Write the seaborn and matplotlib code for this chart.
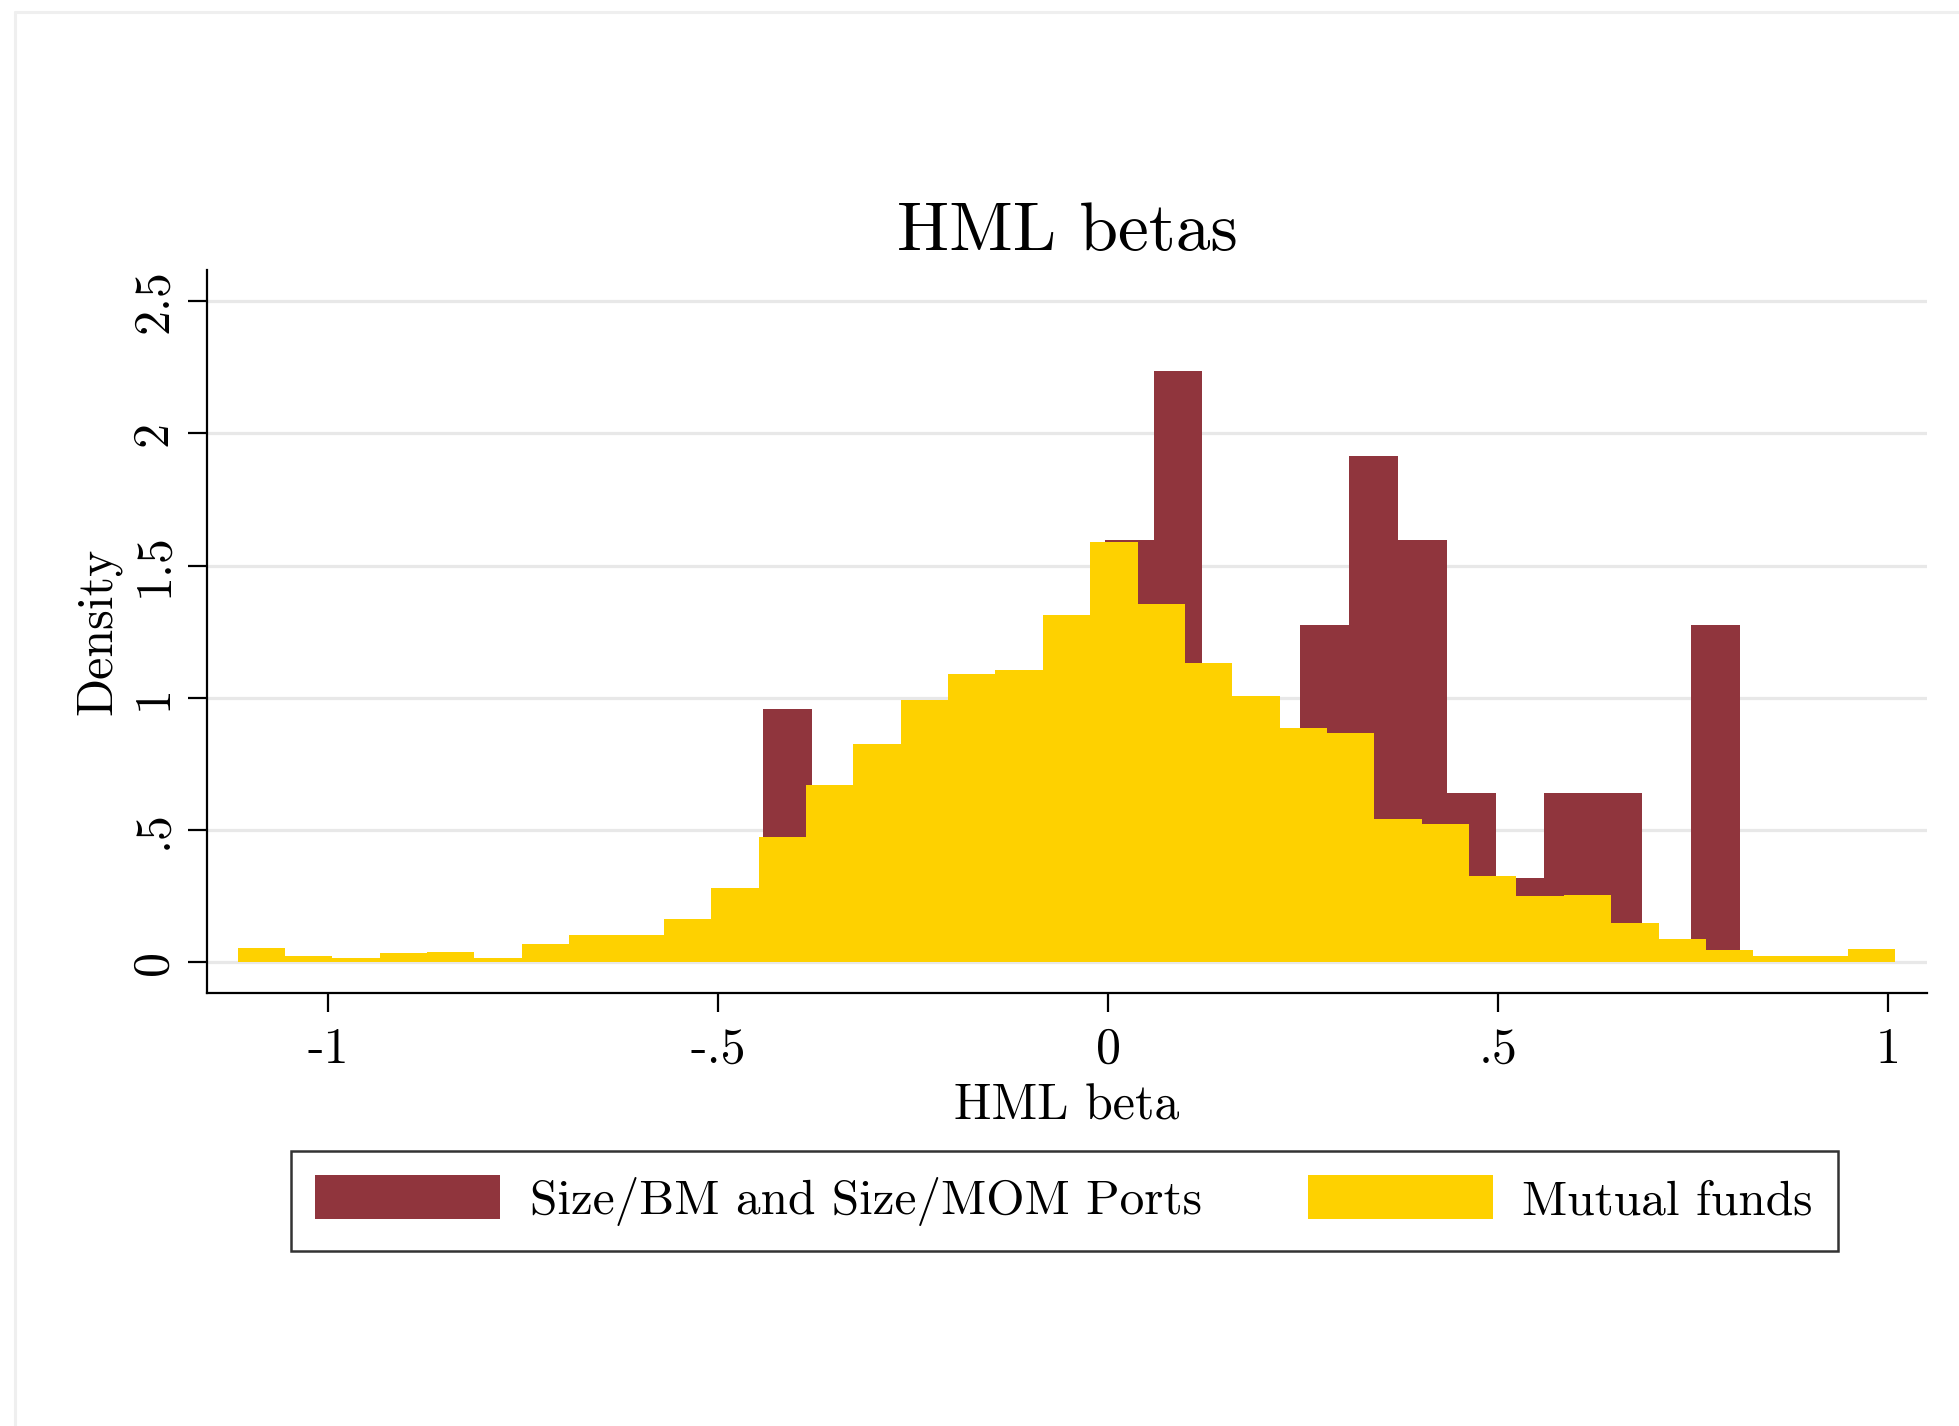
import numpy as np
import pandas as pd
import seaborn as sns
import matplotlib
matplotlib.use("Agg")
import matplotlib.pyplot as plt
from matplotlib.patches import Patch
from matplotlib.lines import Line2D

# ---- data -------------------------------------------------------------
# Size/BM and Size/MOM portfolios (50 portfolios), 20 equal-width bins
port_lo, port_hi, port_nbins = -0.4428, 0.8103, 20
port_counts = [3, 1, 1, 2, 1, 1, 1, 5, 7, 1, 1, 4, 6, 5, 2, 1, 2, 2, 0, 4]

# Mutual funds, 35 equal-width bins, density per bin
fund_lo, fund_hi, fund_nbins = -1.1163, 1.0099, 35
fund_density = [0.054, 0.025, 0.014, 0.035, 0.039, 0.014, 0.069, 0.103, 0.101,
                0.165, 0.281, 0.474, 0.670, 0.825, 0.991, 1.089, 1.105, 1.314,
                1.588, 1.355, 1.130, 1.005, 0.884, 0.865, 0.540, 0.522, 0.327,
                0.249, 0.253, 0.148, 0.089, 0.047, 0.025, 0.025, 0.050]

x_ticks = [-1, -0.5, 0, 0.5, 1]
x_ticklabels = ["-1", "-.5", "0", ".5", "1"]
y_ticks = [0, 0.5, 1, 1.5, 2, 2.5]
y_ticklabels = ["0", ".5", "1", "1.5", "2", "2.5"]

series_names = ["Size/BM and Size/MOM Ports", "Mutual funds"]
series_colors = ["#90353D", "#FED100"]

# ---- tables -------------------------------------------------------------
port_edges = np.linspace(port_lo, port_hi, port_nbins + 1).tolist()
fund_edges = np.linspace(fund_lo, fund_hi, fund_nbins + 1).tolist()
ports = pd.DataFrame({"beta": [(a + b) / 2 for a, b in zip(port_edges[:-1], port_edges[1:])],
                      "n": port_counts})
funds = pd.DataFrame({"beta": [(a + b) / 2 for a, b in zip(fund_edges[:-1], fund_edges[1:])],
                      "dens": fund_density})

# ---- style ----------------------------------------------------------------
sns.set_theme(style="white")
plt.rcParams["font.family"] = ["cmr10", "DejaVu Serif"]
plt.rcParams["mathtext.fontset"] = "cm"
plt.rcParams["axes.unicode_minus"] = False
plt.rcParams["axes.formatter.use_mathtext"] = True
for key in ("text.color", "axes.labelcolor", "xtick.color", "ytick.color"):
    plt.rcParams[key] = "black"

fig = plt.figure(figsize=(19.59, 14.26), dpi=100)
ax = fig.add_axes([0.1059, 0.3034, 0.9835 - 0.1059, 0.8107 - 0.3034])

sns.histplot(data=ports, x="beta", weights="n", bins=port_edges, stat="density",
             color=series_colors[0], alpha=1, linewidth=0, ax=ax, zorder=2)
sns.histplot(data=funds, x="beta", weights="dens", bins=fund_edges, stat="count",
             color=series_colors[1], alpha=1, linewidth=0, ax=ax, zorder=3)

ax.set_xlim(-1.155, 1.05)
ax.set_ylim(-0.118, 2.618)

ax.set_axisbelow(True)
ax.yaxis.grid(True, color="#E8E8E8", linewidth=2.3)
ax.xaxis.grid(False)

for side in ("top", "right"):
    ax.spines[side].set_visible(False)
for side in ("left", "bottom"):
    ax.spines[side].set_color("black")
    ax.spines[side].set_linewidth(1.6)

ax.set_xticks(x_ticks)
ax.set_xticklabels(x_ticklabels)
ax.set_yticks(y_ticks)
ax.set_yticklabels(y_ticklabels, rotation=90, va="center")
ax.tick_params(axis="both", which="major", direction="out", length=14,
               width=1.6, color="black", labelcolor="black", labelsize=36,
               bottom=True, left=True)
ax.tick_params(axis="x", pad=10)
ax.tick_params(axis="y", pad=8)

ax.set_title("HML betas", fontsize=50, pad=14, color="black")
ax.set_xlabel("HML beta", fontsize=36, labelpad=8, color="black")
ax.set_ylabel("Density", fontsize=36, color="black")
ax.yaxis.set_label_coords(-0.05, 0.5)

handles = [Patch(facecolor=c, edgecolor="none") for c in series_colors]
leg = fig.legend(handles, series_names, loc="center",
                 bbox_to_anchor=(0.5432, 0.158), ncol=2, fontsize=35.5,
                 frameon=True, fancybox=False, shadow=False,
                 handlelength=3.75, handleheight=1.0, handletextpad=0.6,
                 columnspacing=2.15, borderpad=0.5, borderaxespad=0)
leg.get_frame().set_edgecolor("black")
leg.get_frame().set_linewidth(1.8)
for t in leg.get_texts():
    t.set_color("black")

# faint outline of the graph region along the top and left edges
fig.add_artist(Line2D([15 / 1959, 15 / 1959], [0, 1 - 12 / 1426],
                      transform=fig.transFigure, color="#EFEFEF", lw=2.2))
fig.add_artist(Line2D([15 / 1959, 1], [1 - 12 / 1426, 1 - 12 / 1426],
                      transform=fig.transFigure, color="#EFEFEF", lw=2.2))

fig.savefig("out.png", dpi=100, facecolor="white")
